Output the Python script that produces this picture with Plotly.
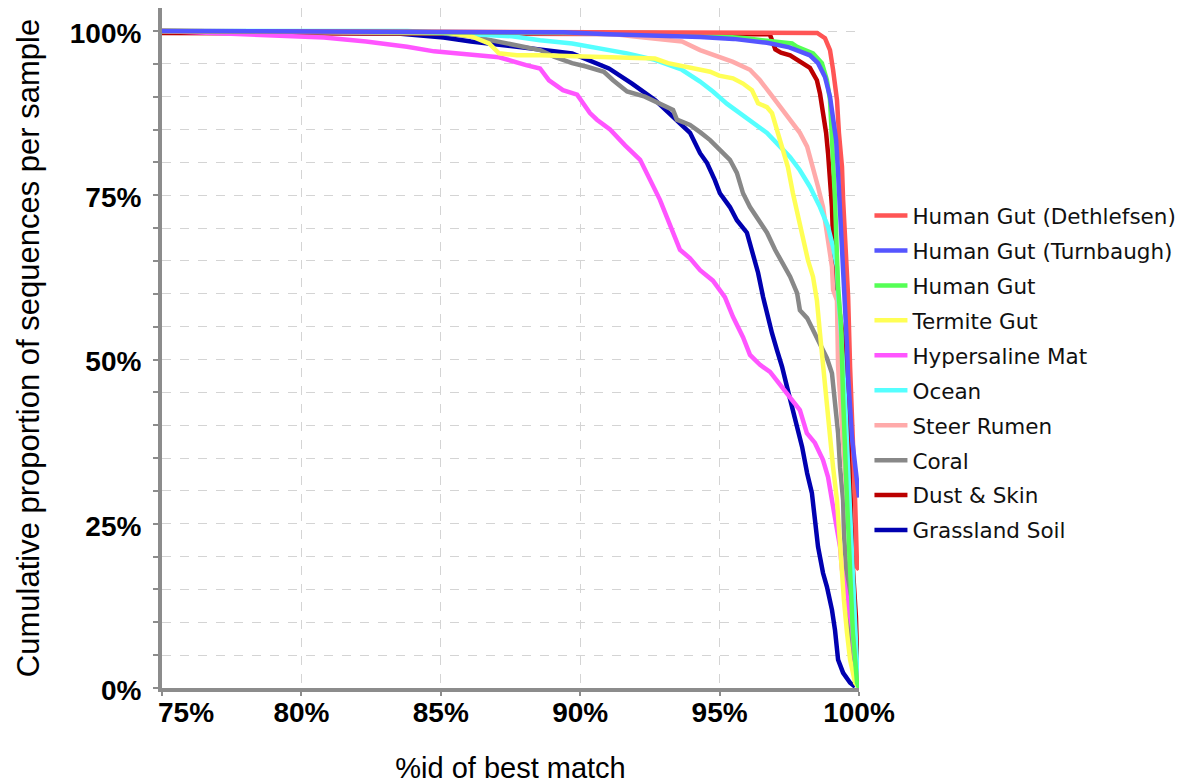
import plotly.graph_objects as go

# ---------------- data ----------------
series_names = ["Human Gut (Dethlefsen)", "Human Gut (Turnbaugh)", "Human Gut", "Termite Gut",
                "Hypersaline Mat", "Ocean", "Steer Rumen", "Coral", "Dust & Skin", "Grassland Soil"]
series_colors = ["#FF5555", "#5555FF", "#55FF55", "#FFFF55", "#FF55FF",
                 "#55FFFF", "#FFAAAA", "#888888", "#BB0000", "#0000B0"]

dethlefsen_x = [75, 98.5, 98.78, 98.96, 99.07, 99.21, 99.28, 99.39, 99.43, 99.5, 99.57, 99.61, 99.68, 99.78, 99.86, 99.93, 100]
dethlefsen_y = [100, 99.7, 98.9, 97.1, 94.1, 89.5, 84.5, 79.3, 74.3, 69.3, 64.1, 59.5, 48.9, 38.8, 28.6, 18.4, 18.0]

turnbaugh_x = [75, 89.4, 91.0, 92.7, 94.3, 95.5, 96.7, 97.5, 97.9, 98.24, 98.53, 98.78, 98.96, 99.07, 99.18, 99.25, 99.32, 99.39, 99.43, 99.5, 99.57, 99.61, 99.75, 99.93, 100]
turnbaugh_y = [100, 99.8, 99.5, 99.3, 99.1, 98.8, 98.2, 97.5, 96.8, 96.3, 95.1, 93.0, 90.0, 86.9, 83.4, 78.4, 73.2, 68.2, 63.2, 59.0, 52.0, 47.3, 38.0, 31.4, 29.0]

humangut_x = [75, 92.68, 94.3, 95.95, 96.7, 97.6, 97.78, 98.35, 98.67, 98.85, 98.96, 99.03, 99.07, 99.14, 99.18, 99.21, 99.25, 99.36, 99.43, 99.57, 99.68, 99.78, 99.93, 100]
humangut_y = [100, 99.7, 99.4, 98.9, 98.5, 98.1, 97.6, 96.6, 95.1, 92.5, 89.5, 84.5, 79.3, 74.3, 69.3, 64.1, 61.0, 55.0, 44.0, 28.6, 18.4, 8.4, 0.8, 0]

termite_x = [75, 85.10, 86.08, 86.73, 87.09, 87.73, 88.56, 89.38, 90.35, 91.36, 92.68, 93.15, 94.15, 94.66, 94.98, 95.48, 95.84, 96.16, 96.38, 96.70, 96.88, 97.09, 97.27, 97.45, 97.63, 97.81, 97.99, 98.17, 98.35, 98.49, 98.60, 98.71, 98.85, 98.96, 99.07, 99.21, 99.28, 99.39, 99.46, 99.57, 99.68, 99.86, 100]
termite_y = [100, 99.8, 99.2, 98.1, 96.6, 96.3, 96.3, 96.2, 96.1, 96.0, 95.8, 95.1, 94.3, 93.8, 93.2, 92.8, 92.0, 91.0, 89.0, 88.4, 87.5, 84.5, 81.9, 79.3, 75.3, 71.7, 68.2, 65.1, 62.6, 59.0, 54.0, 48.9, 43.8, 38.8, 33.6, 28.6, 23.6, 18.4, 13.4, 8.4, 4.3, 0.8, 0]

hypersaline_x = [75, 77.87, 80.81, 82.32, 83.79, 84.76, 86.08, 87.09, 88.06, 88.56, 88.88, 89.38, 89.89, 90.35, 90.6, 91.07, 91.61, 92.15, 92.86, 93.22, 93.58, 93.94, 94.30, 94.76, 95.19, 95.48, 95.84, 96.09, 96.45, 96.81, 97.17, 97.53, 97.88, 98.13, 98.42, 98.71, 98.89, 99.07, 99.21, 99.32, 99.39, 99.50, 99.61, 99.75, 99.82, 99.93, 100]
hypersaline_y = [100, 99.5, 99.0, 98.4, 97.6, 96.9, 96.3, 96.0, 94.8, 94.3, 92.5, 91.0, 90.3, 87.5, 86.5, 85.0, 82.6, 80.4, 74.3, 70.5, 66.7, 65.4, 63.6, 62.0, 59.5, 56.5, 53.4, 50.7, 49.2, 48.1, 46.1, 44.3, 42.3, 38.8, 37.3, 34.7, 32.1, 27.6, 24.5, 21.5, 18.0, 15.4, 12.3, 9.3, 5.8, 0.8, 0]

ocean_x = [75, 83.8, 87.55, 88.56, 89.71, 90.71, 91.68, 92.68, 93.65, 94.3, 94.76, 95.27, 95.73, 96.20, 96.70, 97.17, 97.53, 97.88, 98.24, 98.60, 98.89, 99.07, 99.21, 99.25, 99.32, 99.50, 99.61, 99.75, 99.82, 99.93, 99.96]
ocean_y = [100, 100, 99.2, 98.6, 98.1, 97.3, 96.6, 95.6, 94.1, 92.3, 90.8, 88.9, 87.5, 86.0, 84.5, 82.4, 80.8, 78.8, 76.3, 73.2, 70.2, 67.1, 64.1, 60.1, 56.5, 43.8, 33.6, 23.6, 13.4, 3.2, 0]

rumen_x = [75, 91.03, 91.86, 92.68, 93.65, 94.30, 95.01, 95.48, 96.09, 96.45, 96.81, 97.17, 97.53, 97.88, 98.14, 98.35, 98.53, 98.71, 98.82, 98.96, 99.03, 99.07, 99.21, 99.25, 99.39, 99.57, 99.75, 99.86, 99.93, 100]
rumen_y = [100, 99.6, 99.2, 98.9, 98.4, 97.1, 96.1, 95.3, 94.1, 92.5, 90.5, 88.4, 86.5, 84.5, 82.4, 79.3, 76.3, 73.2, 70.2, 67.1, 64.1, 60.6, 59.0, 48.9, 38.8, 28.6, 18.4, 8.4, 0.8, 0]

coral_x = [75, 85.10, 86.08, 87.09, 87.73, 88.56, 89.06, 89.71, 90.21, 90.85, 91.18, 91.68, 92.32, 92.83, 93.33, 93.47, 93.94, 94.30, 94.66, 95.01, 95.37, 95.62, 95.84, 96.09, 96.38, 96.70, 96.99, 97.27, 97.53, 97.78, 97.88, 98.14, 98.35, 98.53, 98.67, 98.85, 99.03, 99.14, 99.25, 99.32, 99.43, 99.46, 99.53, 99.61, 99.68, 99.78, 99.93, 100]
coral_y = [100, 99.6, 99.2, 98.4, 97.9, 97.1, 96.1, 95.1, 94.6, 93.8, 92.5, 90.8, 90.0, 89.0, 88.0, 86.5, 85.7, 84.6, 83.4, 81.9, 80.4, 78.4, 75.3, 73.2, 71.2, 69.3, 66.7, 64.7, 62.6, 60.1, 57.5, 56.3, 54.5, 52.7, 51.4, 50.2, 47.9, 43.8, 38.8, 33.6, 28.6, 23.6, 18.4, 13.4, 8.4, 4.3, 0.8, 0]

dust_x = [75, 96.8, 97.0, 97.2, 97.53, 97.88, 98.24, 98.49, 98.60, 98.71, 98.82, 98.89, 98.96, 99.03, 99.07, 99.14, 99.21, 99.39, 99.50, 99.61, 99.68, 99.78, 99.89, 99.96]
dust_y = [99.7, 99.5, 97.2, 96.7, 96.3, 95.3, 94.4, 92.5, 90.5, 87.5, 84.5, 81.4, 77.3, 73.2, 68.2, 64.1, 60.1, 54.5, 50.7, 41.6, 33.6, 18.3, 10.8, 0.8]

grassland_x = [75, 83.46, 85.10, 86.08, 87.73, 88.88, 89.71, 91.03, 91.86, 92.68, 93.33, 93.94, 94.30, 94.55, 94.83, 95.01, 95.37, 95.62, 95.98, 96.20, 96.38, 96.56, 96.74, 96.88, 97.06, 97.24, 97.42, 97.60, 97.78, 97.96, 98.14, 98.31, 98.42, 98.53, 98.71, 98.85, 99.03, 99.14, 99.25, 99.43, 99.68, 99.86]
grassland_y = [100, 99.6, 99.0, 98.4, 97.6, 97.1, 96.6, 94.3, 92.0, 89.5, 87.0, 84.5, 81.4, 79.9, 77.3, 75.3, 73.2, 71.2, 69.3, 66.2, 63.2, 59.5, 56.0, 54.0, 51.4, 48.9, 45.8, 42.8, 39.7, 36.7, 32.7, 29.7, 25.6, 21.5, 17.5, 15.4, 11.9, 8.8, 4.3, 2.3, 0.8, 0.2]

x_tick_vals = [75, 80, 85, 90, 95, 100]
x_tick_text = ["75%", "80%", "85%", "90%", "95%", "100%"]
y_tick_vals = [0, 25, 50, 75, 100]
y_tick_text = ["0%", "25%", "50%", "75%", "100%"]

series_x = [dethlefsen_x, turnbaugh_x, humangut_x, termite_x, hypersaline_x,
            ocean_x, rumen_x, coral_x, dust_x, grassland_x]
series_y = [dethlefsen_y, turnbaugh_y, humangut_y, termite_y, hypersaline_y,
            ocean_y, rumen_y, coral_y, dust_y, grassland_y]

# drawing order (bottom to top); legend order kept by legendrank
draw_order = [9, 8, 7, 6, 5, 4, 3, 2, 0, 1]

fig = go.Figure()
for i in draw_order:
    fig.add_trace(go.Scatter(
        x=series_x[i], y=series_y[i], mode="lines", name=series_names[i],
        line=dict(color=series_colors[i], width=4.5),
        legendrank=i + 1, legendgroup="g%d" % i,
    ))

tick_font = dict(family="Liberation Sans", size=28, color="black", weight="bold")
grid_col = "#d4d4d4"
axis_col = "#8c8c8c"

# first x label sits just right of the axis corner in the reference
x_tick_shown = [""] + x_tick_text[1:]
fig.add_annotation(x=x_tick_vals[0], xref="x", y=0, yref="paper",
                   text=x_tick_text[0], showarrow=False, font=tick_font,
                   xanchor="left", yanchor="middle", xshift=-6, yshift=-24)

fig.update_layout(
    width=1186, height=784,
    paper_bgcolor="white", plot_bgcolor="white",
    margin=dict(l=162, r=327, t=8, b=96, autoexpand=False),
    showlegend=True,
    legend=dict(x=1.015, xanchor="left", y=0.725, yanchor="top",
                font=dict(family="DejaVu Sans", size=21.5, color="#111111"),
                itemwidth=33, tracegroupgap=4, bgcolor="rgba(0,0,0,0)"),
    font=dict(family="Liberation Sans", color="black"),
)
fig.update_xaxes(
    range=[75, 100], tickvals=x_tick_vals, ticktext=x_tick_shown,
    tickfont=tick_font,
    showline=True, linecolor=axis_col, linewidth=4,
    ticks="outside", ticklen=4, tickcolor=axis_col, tickwidth=2,
    ticklabelstandoff=-8, automargin=False,
    showgrid=True, gridcolor=grid_col, griddash="dash", gridwidth=1,
    zeroline=False,
    title=dict(text="%id of best match", font=dict(family="Liberation Sans", size=29, color="black"), standoff=48),
)
fig.update_yaxes(
    range=[0, 103.5], tickvals=y_tick_vals, ticktext=y_tick_text,
    tickfont=tick_font,
    showline=True, linecolor=axis_col, linewidth=4,
    ticks="outside", ticklen=5, tickcolor=axis_col, tickwidth=2,
    ticklabelstandoff=6, ticklabelshift=2, automargin=False,
    showgrid=True, gridcolor=grid_col, griddash="dash", gridwidth=1,
    minor=dict(dtick=5, showgrid=True, gridcolor=grid_col, griddash="dash", gridwidth=1,
               ticks="outside", ticklen=5, tickcolor=axis_col, tickwidth=2),
    zeroline=False,
    title=dict(text="Cumulative proportion of sequences per sample",
               font=dict(family="Liberation Sans", size=31, color="black"), standoff=22),
)

fig.write_html("out.html")
